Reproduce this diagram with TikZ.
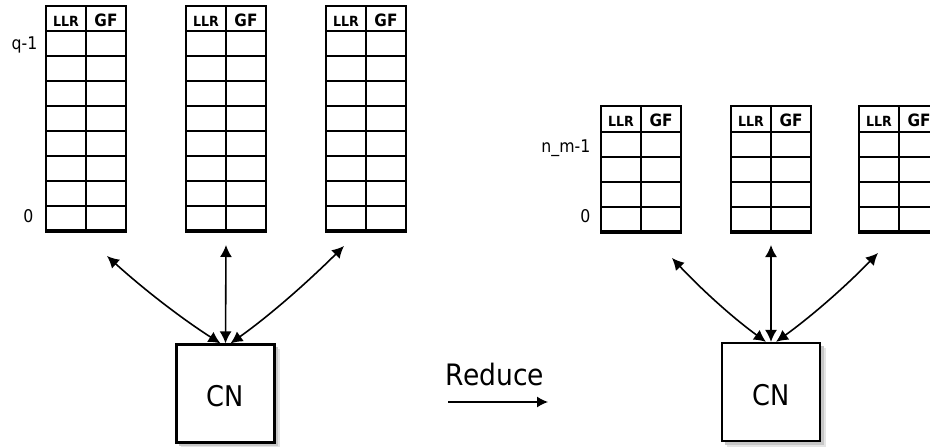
\documentclass[tikz,border=0pt]{standalone}
\usepackage{fontspec}
\setmainfont{DejaVu Sans}[FakeStretch=0.9]
\usetikzlibrary{arrows.meta}
\tikzset{
  gridline/.style={line width=2pt},
  hdrllr/.style={font=\bfseries\fontsize{14}{14}\selectfont, anchor=base, inner sep=0pt},
  hdrgf/.style={font=\bfseries\fontsize{17}{17}\selectfont, anchor=base, inner sep=0pt},
  lbl/.style={font=\fontsize{17.5}{17.5}\selectfont, anchor=base east, inner sep=0pt},
  cnbox/.style={draw, line width=2.2pt, fill=white, minimum size=98pt, inner sep=0pt,
    text height=26.4pt, text depth=0pt, font=\fontsize{28.5}{28.5}\selectfont},
  shadowA/.style={fill=black!10},
  shadowB/.style={fill=black!22},
  link/.style={line width=1.6pt, {Latex[length=12pt,width=12pt]}-{Latex[length=12pt,width=12pt]}},
  reducearrow/.style={line width=1.3pt, -{Latex[length=11pt,width=11pt]}},
  reducetext/.style={font=\fontsize{29.5}{29.5}\selectfont, anchor=base, inner sep=0pt},
}
% #1 name, #2 x left, #3 y top, #4 header height, #5 rows
\newcommand\llrtable[5]{%
  \pgfmathsetmacro\lltabbot{#3+#4+25*#5}
  \draw[gridline] (#2,#3) rectangle (#2+80,\lltabbot);
  \draw[gridline] (#2+40,#3) -- (#2+40,\lltabbot);
  \foreach \k in {1,...,#5}{
    \draw[gridline] (#2,#3+#4+25*\k-25) -- (#2+80,#3+#4+25*\k-25);
  }
  \draw[line width=3.4pt] (#2-1,\lltabbot) -- (#2+81,\lltabbot);
  \node[hdrllr] (#1-llr) at (#2+20,#3+20) {LLR};
  \node[hdrgf] (#1-gf) at (#2+60,#3+20) {GF};
}
\begin{document}
\begin{tikzpicture}[x=1pt,y=-1pt]
\useasboundingbox (0,0) rectangle (930,447);

% ---------- left group ----------
\llrtable{t1}{46}{6}{25}{8}
\llrtable{t2}{186}{6}{25}{8}
\llrtable{t3}{326}{6}{25}{8}
\node[lbl] (lq) at (37.5,49) {q-1};
\node[lbl] (lz) at (33.5,222.5) {0};

\fill[shadowA] (181,349) rectangle (280,448);
\fill[shadowB] (179,347) rectangle (278,446);
\node[cnbox] (cnL) at (225.5,393.5) {CN};

\coordinate (aL1) at (107,256);
\coordinate (aL2) at (226,245);
\coordinate (aL3) at (344,246);
\draw[link] ([xshift=-5pt]cnL.north) .. controls +(-40.6,-26.0) and +(35.8,32.4) .. (aL1);
\draw[link] (cnL.north) -- (aL2);
\draw[link] ([xshift=5pt]cnL.north) .. controls +(40.8,-29.1) and +(-35.6,35.3) .. (aL3);

% ---------- reduce ----------
\node[reducetext] (red) at (495,385) {Reduce};
\coordinate (r1) at (448,402);
\coordinate (r2) at (548,402);
\draw[reducearrow] (r1) -- (r2);

% ---------- right group ----------
\llrtable{u1}{601}{106}{26}{4}
\llrtable{u2}{731}{106}{26}{4}
\llrtable{u3}{859}{106}{26}{4}
\node[lbl] (rn) at (590.5,152) {n\_m-1};
\node[lbl] (rz) at (590.5,222) {0};

\fill[shadowA] (726.5,347.5) rectangle (825.5,446.5);
\fill[shadowB] (724.5,345.5) rectangle (823.5,444.5);
\node[cnbox] (cnR) at (771,392) {CN};

\coordinate (bR1) at (672,258);
\coordinate (bR2) at (771,245);
\coordinate (bR3) at (878,253);
\draw[link] ([xshift=-5pt]cnR.north) .. controls +(-34.3,-25.0) and +(29.1,31.0) .. (bR1);
\draw[link] (cnR.north) -- (bR2);
\draw[link] ([xshift=5pt]cnR.north) .. controls +(36.9,-26.7) and +(-31.7,32.7) .. (bR3);
\end{tikzpicture}
\end{document}
